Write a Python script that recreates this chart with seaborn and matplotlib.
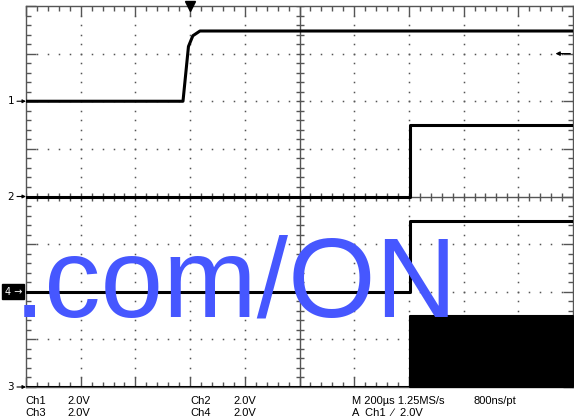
import numpy as np
import pandas as pd
import matplotlib
matplotlib.use("Agg")
import matplotlib.pyplot as plt
import seaborn as sns
from matplotlib import font_manager as fm

# ---------------- data ----------------
volts_per_div = 2.0
us_per_div = 200.0
screen_left_us = -600.0          # trigger is 3 divisions from the left edge
screen_right_us = 1400.0

ch1_t = [-600, -26, -6, 10, 36, 1400]          # µs
ch1_v = [0.0, 0.0, 2.3, 2.75, 2.95, 2.95]      # V
ch2_t = [-600, 804, 804, 1400]
ch2_v = [0.0, 0.0, 3.0, 3.0]
ch4_t = [-600, 804, 804, 1400]
ch4_v = [0.0, 0.0, 2.98, 2.98]
ch3_t = [-600, 804]
ch3_v = [0.0, 0.0]
ch3_sw_t = [804, 1400]            # high-frequency switching band
ch3_sw_low = [0.0, 0.0]
ch3_sw_high = [3.0, 3.0]

offsets_div = {"1": 2.0, "2": 0.0, "4": -2.0, "3": -4.0}
trigger_level_v = 2.0

overlay_text = ".com/ON"
readout_rows = [
    ("Ch1", "2.0V", "Ch2", "2.0V", "M 200µs 1.25MS/s", "800ns/pt"),
    ("Ch3", "2.0V", "Ch4", "2.0V", "A  Ch1  \u2215  2.0V", ""),
]

# ---------------- helpers ----------------
W, H = 574, 417
def fx(px):
    return px / W
def fy(py):
    return 1 - py / H

def to_div(t):
    return (np.asarray(t, float) - screen_left_us) / us_per_div

def frame(t, v, ch):
    return pd.DataFrame({"x": to_div(t),
                         "y": np.asarray(v, float) / volts_per_div + offsets_div[ch]})

sns.set_style("white")
plt.rcParams["font.family"] = ["DejaVu Sans"]

fig = plt.figure(figsize=(W / 100, H / 100), dpi=100)
ax = fig.add_axes([fx(26), fy(387), (573 - 26) / W, (387 - 6) / H])
ax.set_xlim(0, 10)
ax.set_ylim(-4, 4)

grid_c = "#555555"
# frame / spines
for s in ax.spines.values():
    s.set_visible(True)
    s.set_color(grid_c)
    s.set_linewidth(1.0)
ax.set_xticks(np.arange(0, 11, 1))
ax.set_yticks(np.arange(-4, 5, 1))
ax.set_xticks(np.arange(0, 10.01, 0.2), minor=True)
ax.set_yticks(np.arange(-4, 4.01, 0.2), minor=True)
ax.tick_params(which="both", direction="in", top=True, right=True, bottom=True, left=True,
               labelbottom=False, labelleft=False, color=grid_c, width=1.0)
ax.tick_params(which="major", length=7)
ax.tick_params(which="minor", length=3.5)

# dotted graticule
minor_x = np.arange(0, 10.01, 0.2)
minor_y = np.arange(-4, 4.01, 0.2)
for gy in [-3, -2, -1, 1, 2, 3]:
    ax.plot(minor_x, np.full_like(minor_x, gy), ls="none", marker="s", ms=1.1,
            color=grid_c, mew=0)
for gx in [1, 2, 3, 4, 6, 7, 8, 9]:
    ax.plot(np.full_like(minor_y, gx), minor_y, ls="none", marker="s", ms=1.1,
            color=grid_c, mew=0)
# centre cross with ticks
ax.axhline(0, color=grid_c, lw=1.0, zorder=1)
ax.axvline(5, color=grid_c, lw=1.0, zorder=1)
ax.plot(minor_x, np.zeros_like(minor_x), ls="none", marker="|", ms=6, mew=1.0, color=grid_c)
ax.plot(np.full_like(minor_y, 5), minor_y, ls="none", marker="_", ms=6, mew=1.0, color=grid_c)

# ---------------- traces ----------------
trace_kw = dict(estimator=None, sort=False, color="black", lw=2.2, ax=ax, legend=False)
for t, v, ch in [(ch1_t, ch1_v, "1"), (ch2_t, ch2_v, "2"), (ch4_t, ch4_v, "4"), (ch3_t, ch3_v, "3")]:
    d = frame(t, v, ch)
    sns.lineplot(data=d, x="x", y="y", zorder=3, **trace_kw)
# channel 3 switching band
sx = to_div(ch3_sw_t)
ax.fill_between(sx, np.asarray(ch3_sw_low) / volts_per_div + offsets_div["3"],
                np.asarray(ch3_sw_high) / volts_per_div + offsets_div["3"],
                color="black", lw=1.5, edgecolor="black", zorder=3, clip_on=False)
ax.set_xlabel("")
ax.set_ylabel("")

# ---------------- channel markers ----------------
for ch, off in offsets_div.items():
    if ch == "4":
        ax.annotate("4 \u2192", xy=(0, off), xycoords=("axes fraction", "data"),
                    xytext=(-4, 0), textcoords="offset pixels", ha="right", va="center",
                    fontsize=7, color="white",
                    bbox=dict(boxstyle="square,pad=0.25", fc="black", ec="black"),
                    annotation_clip=False)
    else:
        ax.annotate("", xy=(0, off), xycoords=("axes fraction", "data"),
                    xytext=(-9, 0), textcoords="offset pixels",
                    arrowprops=dict(arrowstyle="-|>", color="black", lw=0.8,
                                    mutation_scale=5, shrinkA=0, shrinkB=0),
                    annotation_clip=False)
        ax.annotate(ch, xy=(0, off), xycoords=("axes fraction", "data"),
                    xytext=(-12, 0), textcoords="offset pixels", ha="right", va="center",
                    fontsize=7.5, color="black", annotation_clip=False)

# trigger position (top) and trigger level (right)
ax.plot([to_div([0])[0]], [4], marker="v", ms=7, color="black", clip_on=False, zorder=5)
trig_y = trigger_level_v / volts_per_div + offsets_div["1"]
ax.annotate("", xy=(0.968, trig_y), xycoords=("axes fraction", "data"),
            xytext=(0.995, trig_y), textcoords=("axes fraction", "data"),
            arrowprops=dict(arrowstyle="-|>", color="black", lw=0.9,
                            mutation_scale=6, shrinkA=0, shrinkB=0))

# ---------------- overlay text ----------------
names = {f.name for f in fm.fontManager.ttflist}
if "Liberation Sans Narrow" in names:
    ov_family, ov_size, ov_x = "Liberation Sans Narrow", 99, 10
else:
    ov_family, ov_size, ov_x = "Liberation Sans", 81, 14
fig.text(fx(ov_x), fy(316), overlay_text, family=ov_family, fontsize=ov_size,
         color="#4657FF", ha="left", va="baseline", zorder=10)

# ---------------- readout ----------------
cols = [25, 67, 190, 233, 352, 473]
rows_y = [401, 413]
for r, row in zip(rows_y, readout_rows):
    for c, txt in zip(cols, row):
        fig.text(fx(c), fy(r), txt, fontsize=8, family=["Liberation Sans", "DejaVu Sans"],
                 ha="left", va="center", color="black")

fig.savefig("out.png", dpi=100)
